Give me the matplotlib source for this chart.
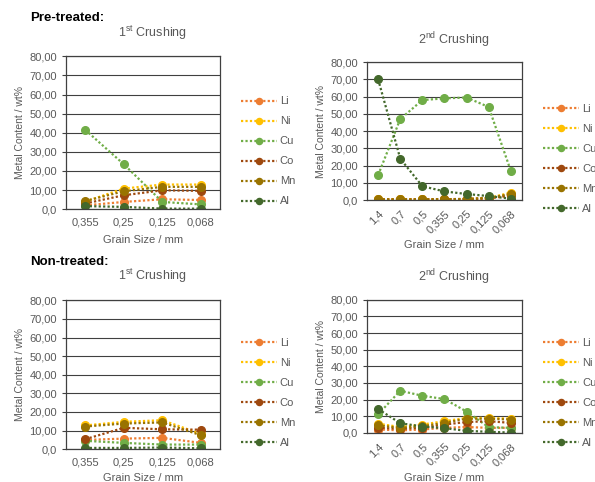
import matplotlib
matplotlib.use('Agg')
import matplotlib.pyplot as plt
from matplotlib.ticker import FuncFormatter

plt.rcParams['font.family'] = ['Liberation Sans', 'DejaVu Sans']
plt.rcParams['mathtext.fontset'] = 'custom'
plt.rcParams['mathtext.rm'] = 'Liberation Sans'

metals = ['Li', 'Ni', 'Cu', 'Co', 'Mn', 'Al']
colors = ['#ED7D31', '#FFC000', '#70AD47', '#9E480E', '#997300', '#43682B']

sizes_1st = ['0,355', '0,25', '0,125', '0,068']
sizes_2nd = ['1,4', '0,7', '0,5', '0,355', '0,25', '0,125', '0,068']

# pre-treated, 1st crushing
pre_1st = {
    'Li': [2.0, 3.8, 5.2, 4.8],
    'Ni': [4.0, 10.8, 12.9, 12.9],
    'Cu': [41.5, 23.5, 3.8, 2.5],
    'Co': [3.0, 7.3, 9.9, 9.6],
    'Mn': [4.3, 9.4, 11.7, 11.7],
    'Al': [1.6, 1.2, 0.3, 0.3],
}
# pre-treated, 2nd crushing
pre_2nd = {
    'Li': [0.5, 0.5, 0.5, 0.5, 0.6, 1.0, 2.3],
    'Ni': [0.4, 0.4, 0.4, 0.5, 0.6, 1.2, 4.3],
    'Cu': [14.5, 47.0, 58.0, 59.0, 59.5, 54.0, 17.0],
    'Co': [0.3, 0.3, 0.3, 0.4, 0.5, 1.0, 3.0],
    'Mn': [0.4, 0.4, 0.4, 0.5, 0.6, 1.2, 3.5],
    'Al': [70.0, 24.0, 8.0, 5.0, 3.5, 2.3, 0.8],
}
# non-treated, 1st crushing
non_1st = {
    'Li': [5.0, 5.7, 6.1, 3.4],
    'Ni': [12.8, 14.7, 15.6, 8.2],
    'Cu': [4.5, 3.4, 2.5, 2.5],
    'Co': [5.4, 11.5, 10.7, 10.5],
    'Mn': [12.2, 13.8, 14.4, 7.5],
    'Al': [0.7, 0.7, 0.9, 0.5],
}
# non-treated, 2nd crushing
non_2nd = {
    'Li': [2.0, 1.5, 2.0, 3.0, 3.5, 3.0, 3.0],
    'Ni': [5.5, 3.5, 5.0, 7.0, 9.0, 9.0, 8.5],
    'Cu': [11.2, 25.3, 22.3, 20.3, 12.8, 3.4, 3.0],
    'Co': [3.0, 2.5, 3.0, 5.0, 6.5, 7.0, 6.0],
    'Mn': [4.5, 3.0, 4.0, 6.0, 8.5, 8.5, 8.0],
    'Al': [14.3, 5.8, 3.8, 2.8, 1.2, 0.6, 0.2],
}

gray = '#595959'
line_col = '#404040'

fig = plt.figure(figsize=(5.95, 4.82), dpi=100)

panels = [
    ([0.111, 0.566, 0.259, 0.317], sizes_1st, pre_1st, '1$^{\\mathrm{st}}$ Crushing', 0, (0.405, 0.800), 33, 240),
    ([0.617, 0.585, 0.260, 0.286], sizes_2nd, pre_2nd, '2$^{\\mathrm{nd}}$ Crushing', 45, (0.913, 0.784), 40, 245),
    ([0.111, 0.068, 0.259, 0.309], sizes_1st, non_1st, '1$^{\\mathrm{st}}$ Crushing', 0, (0.405, 0.298), 276, 478),
    ([0.617, 0.102, 0.260, 0.276], sizes_2nd, non_2nd, '2$^{\\mathrm{nd}}$ Crushing', 45, (0.913, 0.298), 277, 478),
]

for rect, cats, data, title, rot, leg_pos, title_y, xlab_y in panels:
    ax = fig.add_axes(rect)
    xs = range(len(cats))
    for m, c in zip(metals, colors):
        ax.plot(xs, data[m], color=c, linestyle=(0, (1, 1)), lw=1.6,
                marker='o', ms=5.5, label=m)
    ax.set_xlim(-0.5, len(cats) - 0.5)
    ax.set_ylim(0, 80)
    ax.set_yticks(range(0, 81, 10))
    ax.yaxis.set_major_formatter(FuncFormatter(
        lambda v, p: '0,0' if v == 0 else ('%.2f' % v).replace('.', ',')))
    ax.set_xticks(list(xs))
    if rot:
        ax.set_xticklabels(cats, rotation=45, ha='right', rotation_mode='anchor')
    else:
        ax.set_xticklabels(cats)
    ax.tick_params(axis='x', length=0, pad=6, labelsize=8, labelcolor=gray)
    ax.tick_params(axis='y', length=3, width=0.8, color=line_col, labelsize=8, labelcolor=gray)
    ax.grid(axis='y', color=line_col, lw=0.8)
    ax.set_axisbelow(True)
    for s in ax.spines.values():
        s.set_color(line_col)
        s.set_linewidth(0.9)
    ax.set_ylabel('Metal Content / wt%', fontsize=7.5, color=gray, labelpad=3)
    cx = rect[0] + rect[2] / 2
    fig.text(cx + 0.016, 1 - title_y / 482, title, ha='center', va='center',
             fontsize=9, color=gray)
    fig.text(cx, 1 - xlab_y / 482, 'Grain Size / mm', ha='center', va='center',
             fontsize=8, color=gray)
    ax.legend(loc='upper left', bbox_to_anchor=leg_pos, bbox_transform=fig.transFigure,
              frameon=False, fontsize=8, labelcolor=gray, borderpad=0, borderaxespad=0,
              handlelength=3.2, handletextpad=0.3, labelspacing=0.9, markerscale=0.8)

fig.text(0.05, 1 - 18 / 482, 'Pre-treated:', ha='left', va='center',
         fontsize=9.5, fontweight='bold', color='black')
fig.text(0.05, 1 - 262 / 482, 'Non-treated:', ha='left', va='center',
         fontsize=9.5, fontweight='bold', color='black')

fig.savefig('out.png', dpi=100)
